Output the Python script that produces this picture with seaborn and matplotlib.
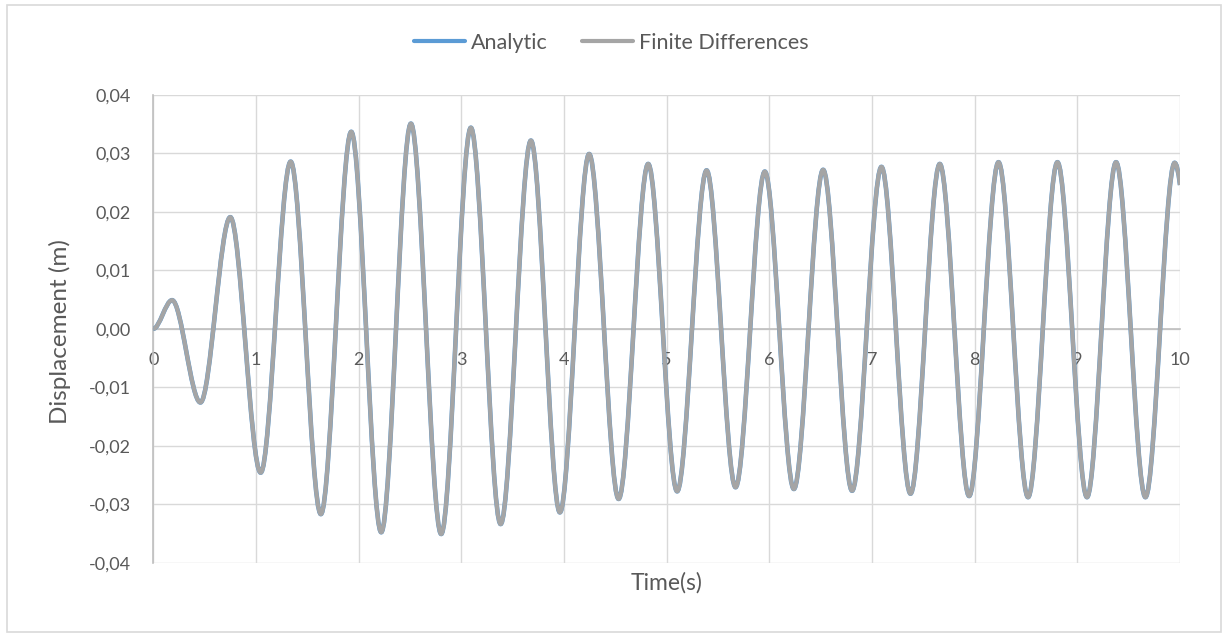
import matplotlib
matplotlib.use("Agg")
import matplotlib.pyplot as plt
import seaborn as sns
from matplotlib.path import Path
from matplotlib.patches import PathPatch, Rectangle
from matplotlib.lines import Line2D
from matplotlib.ticker import FuncFormatter

# ---- data: start sample, every turning point, end sample ----
time_s = [0.0, 0.183, 0.459, 0.750, 1.046, 1.338, 1.632, 1.928, 2.220, 2.509,
          2.804, 3.093, 3.383, 3.678, 3.960, 4.245, 4.532, 4.820, 5.102, 5.389,
          5.671, 5.956, 6.239, 6.524, 6.806, 7.092, 7.375, 7.660, 7.946, 8.232,
          8.520, 8.806, 9.094, 9.377, 9.663, 9.948, 10.0]
analytic = [0.0, 0.0049, -0.0126, 0.0191, -0.0246, 0.0286, -0.0317, 0.0337, -0.0348, 0.0351,
            -0.0351, 0.0344, -0.0334, 0.0322, -0.0314, 0.0299, -0.0291, 0.0282, -0.0278, 0.0271,
            -0.0271, 0.0269, -0.0274, 0.0272, -0.0277, 0.0277, -0.0282, 0.0282, -0.0286, 0.0285,
            -0.0288, 0.0285, -0.0288, 0.0285, -0.0288, 0.0284, 0.0246]
finite_diff = [0.0, 0.0049, -0.0126, 0.0191, -0.0246, 0.0286, -0.0317, 0.0337, -0.0348, 0.0351,
               -0.0351, 0.0344, -0.0334, 0.0322, -0.0314, 0.0299, -0.0291, 0.0282, -0.0278, 0.0271,
               -0.0271, 0.0269, -0.0274, 0.0272, -0.0277, 0.0277, -0.0282, 0.0282, -0.0286, 0.0285,
               -0.0288, 0.0285, -0.0288, 0.0285, -0.0288, 0.0284, 0.0246]
series_names = ["Analytic", "Finite Differences"]
series_colors = ["#5B9BD5", "#A5A5A5"]
y_ticks = [-0.04, -0.03, -0.02, -0.01, 0.0, 0.01, 0.02, 0.03, 0.04]
x_ticks = list(range(0, 11))

sns.set_theme(style="whitegrid")
plt.rcParams["font.family"] = ["Lato", "DejaVu Sans"]
TXT = "#595959"


def smooth_path(t, y):
    """Smoothed line (like a spreadsheet 'smoothed line') through turning points:
    Bezier segments with flat tangents at each turning point."""
    verts = [(t[0], y[0])]
    codes = [Path.MOVETO]
    n = len(t)
    for i in range(n - 1):
        t0, y0, t1, y1 = t[i], y[i], t[i + 1], y[i + 1]
        dt = t1 - t0
        if i == n - 2:
            verts += [(t0 + dt / 2, y0), (t1, y1)]
            codes += [Path.CURVE3] * 2
        else:
            verts += [(t0 + dt / 3, y0), (t1 - dt / 3, y1), (t1, y1)]
            codes += [Path.CURVE4] * 3
    return Path(verts, codes)


fig = plt.figure(figsize=(12.22, 6.33), dpi=100)
fig.patch.set_facecolor("white")
ax = fig.add_axes([0.12545, 0.1111, 0.8402, 0.7389])
ax.set_facecolor("white")

for vals, col, lw in [(analytic, series_colors[0], 3.3), (finite_diff, series_colors[1], 3.0)]:
    ax.add_patch(PathPatch(smooth_path(time_s, vals), fill=False, edgecolor=col, lw=lw,
                           capstyle="butt", joinstyle="round", zorder=3))

ax.set_xlim(0, 10)
ax.set_ylim(-0.04, 0.04)
ax.set_xticks(x_ticks)
ax.set_yticks(y_ticks)
ax.yaxis.set_major_formatter(FuncFormatter(lambda v, p: f"{v:.2f}".replace(".", ",")))
ax.xaxis.set_major_formatter(FuncFormatter(lambda v, p: f"{int(round(v))}"))

ax.grid(True, color="#D9D9D9", lw=1.0)
for s in ["top", "right"]:
    ax.spines[s].set_visible(False)
ax.spines["bottom"].set_position(("data", 0))
ax.spines["bottom"].set_color("#BFBFBF")
ax.spines["left"].set_color("#BFBFBF")
ax.spines["bottom"].set_linewidth(1.2)
ax.spines["left"].set_linewidth(1.2)
ax.spines["bottom"].set_zorder(2)

ax.tick_params(axis="x", length=0, pad=17, labelsize=13, labelcolor=TXT)
ax.tick_params(axis="y", length=0, pad=16, labelsize=13, labelcolor=TXT)

fig.text(667 / 1222, 1 - 583 / 633, "Time(s)", ha="center", va="center", fontsize=16.5, color=TXT)
fig.text(60 / 1222, 1 - 332 / 633, "Displacement (m)", ha="center", va="center",
         rotation=90, fontsize=17.5, color=TXT)

handles = [Line2D([], [], color=c, lw=3.0) for c in series_colors]
fig.legend(handles, series_names, loc="center", bbox_to_anchor=(0.5, 1 - 43 / 633), ncol=2,
           frameon=False, fontsize=15.5, labelcolor=TXT, handlelength=2.4,
           handletextpad=0.25, columnspacing=1.6)

fig.add_artist(Rectangle((6.5 / 1222, 1 - 632 / 633), (1221 - 6.5) / 1222, (632 - 5) / 633,
                         transform=fig.transFigure, fill=False, edgecolor="#D9D9D9", lw=1.2))

fig.savefig("out.png", dpi=100, facecolor="white")
